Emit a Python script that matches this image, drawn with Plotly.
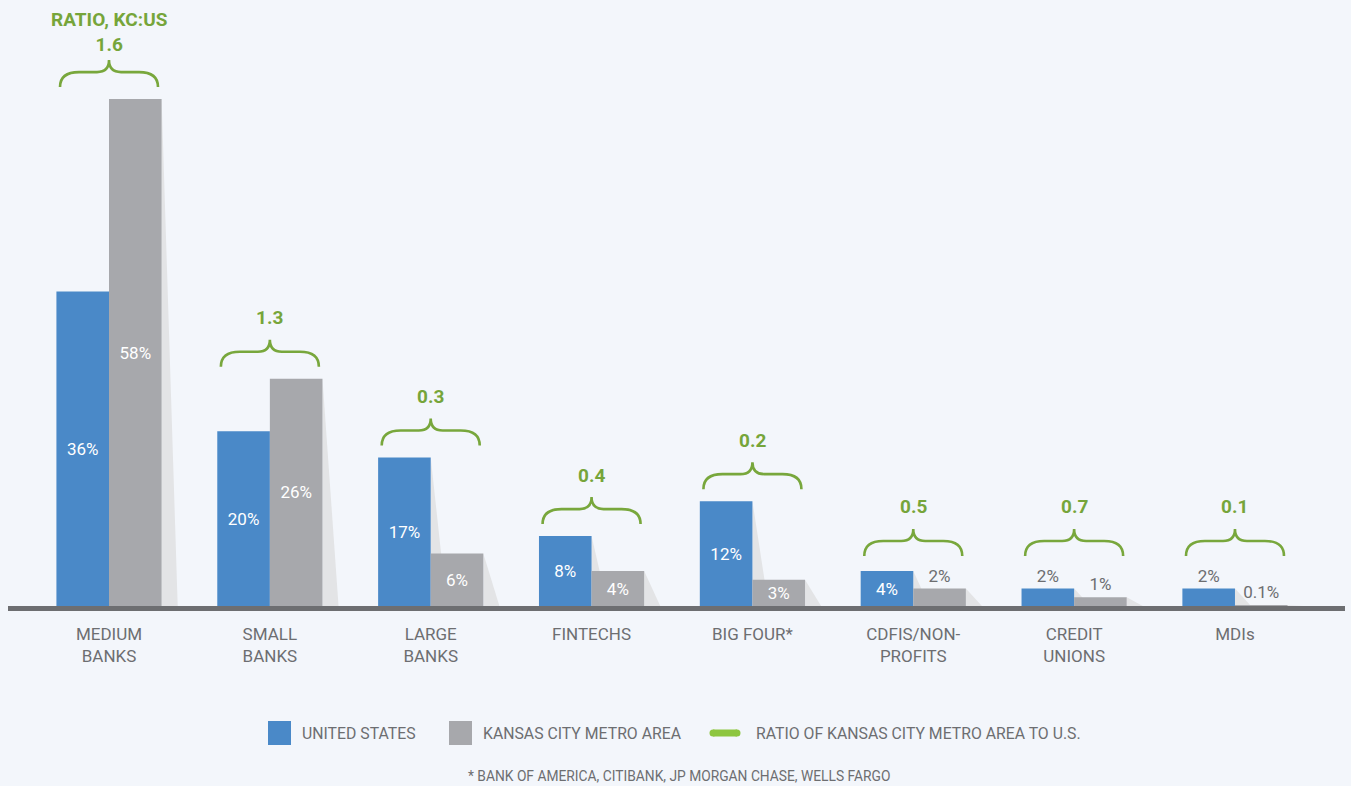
import plotly.graph_objects as go

# ---------------- data ----------------
categories = ["MEDIUM<br>BANKS", "SMALL<br>BANKS", "LARGE<br>BANKS", "FINTECHS",
              "BIG FOUR*", "CDFIS/NON-<br>PROFITS", "CREDIT<br>UNIONS", "MDIs"]
us_share = [36, 20, 17, 8, 12, 4, 2, 2]
kc_share = [58, 26, 6, 4, 3, 2, 1, 0.1]
ratio_kc_us = [1.6, 1.3, 0.3, 0.4, 0.2, 0.5, 0.7, 0.1]
series_names = ["UNITED STATES", "KANSAS CITY METRO AREA", "RATIO OF KANSAS CITY METRO AREA TO U.S."]
footnote = "* BANK OF AMERICA, CITIBANK, JP MORGAN CHASE, WELLS FARGO"

# ---------------- style ----------------
BG = "#f3f6fb"
BLUE = "#4a89c8"
GRAY = "#a7a8ac"
SHADOW = "#e3e4e6"
AXIS = "#6d6e71"
TXT = "#6d6e71"
GREEN_TXT = "#76a53a"
GREEN_LINE = "#78a73c"
GREEN_LEG = "#8dc63f"
FONT = "Roboto"

W, H = 1351, 786
ML, MR, MT, MB = 8, 6, 0, 180
PW, PH = W - ML - MR, H - MT - MB

BAR_W = 0.327
X_RANGE = [-0.628, 7.684]
Y_RANGE = [0, 69.34]
SHADOW_DX = 0.1
MIN_BRACE = 4.35

x_idx = list(range(len(categories)))

fig = go.Figure()

def text_pos(vals):
    return ["inside" if v >= 3 else "outside" for v in vals]

for vals, name, color in ((us_share, series_names[0], BLUE), (kc_share, series_names[1], GRAY)):
    fig.add_trace(go.Bar(
        x=x_idx, y=vals, name=name, marker=dict(color=color, line=dict(width=0)),
        offset=-BAR_W if color == BLUE else 0, width=BAR_W,
        texttemplate="%{y}%", textposition=text_pos(vals), insidetextanchor="middle",
        insidetextfont=dict(color="white", size=17, family=FONT),
        outsidetextfont=dict(color=TXT, size=17, family=FONT),
        constraintext="none", cliponaxis=False, showlegend=False, hoverinfo="skip",
    ))

shapes = []
annotations = []

def px_x(px):
    return (px - ML) / PW

def px_y(py):
    return (MT + PH - py) / PH

# bar shadows
for i in x_idx:
    for off, v in ((-BAR_W, us_share[i]), (0, kc_share[i])):
        xr = i + off + BAR_W
        shapes.append(dict(type="path", xref="x", yref="y", layer="below",
                           path=f"M {xr},{v} L {xr + SHADOW_DX},0 L {xr},0 Z",
                           fillcolor=SHADOW, line=dict(width=0)))

# baseline axis
shapes.append(dict(type="line", xref="paper", yref="paper",
                   x0=0, x1=1, y0=px_y(608.5), y1=px_y(608.5),
                   line=dict(color=AXIS, width=5), layer="above"))

# braces and ratio labels
brace = ("M -49,12 C -49,23 -42,27 -30,27 L -12,27 C -4,27 0,31 0,39 "
         "C 0,31 4,27 12,27 L 30,27 C 42,27 49,23 49,12")
for i in x_idx:
    anchor = max(us_share[i], kc_share[i], MIN_BRACE)
    shapes.append(dict(type="path", xref="x", yref="y", xsizemode="pixel", ysizemode="pixel",
                       xanchor=i, yanchor=anchor, path=brace,
                       line=dict(color=GREEN_LINE, width=2.6), layer="above"))
    if i == 0:
        annotations.append(dict(x=i, y=anchor, xref="x", yref="y", yshift=41, yanchor="bottom",
                                text=f"<b>RATIO, KC:US</b><br><b>{ratio_kc_us[i]:.1f}</b>",
                                showarrow=False, font=dict(color=GREEN_TXT, size=19, family=FONT)))
    else:
        annotations.append(dict(x=i, y=anchor, xref="x", yref="y", yshift=61, yanchor="middle",
                                text=f"<b>{ratio_kc_us[i]:.1f}</b>",
                                showarrow=False, font=dict(color=GREEN_TXT, size=19, family=FONT)))

# custom legend
leg_y = 733
shapes.append(dict(type="rect", xref="paper", yref="paper", x0=px_x(268), x1=px_x(291),
                   y0=px_y(745), y1=px_y(721), fillcolor=BLUE, line=dict(width=0)))
shapes.append(dict(type="rect", xref="paper", yref="paper", x0=px_x(449), x1=px_x(472),
                   y0=px_y(745), y1=px_y(721), fillcolor=GRAY, line=dict(width=0)))
shapes.append(dict(type="line", xref="paper", yref="paper", x0=px_x(713), x1=px_x(737),
                   y0=px_y(leg_y), y1=px_y(leg_y), line=dict(color=GREEN_LEG, width=7)))
shapes.append(dict(type="circle", xref="paper", yref="paper", x0=px_x(709.5), x1=px_x(716.5),
                   y0=px_y(736.5), y1=px_y(729.5), fillcolor=GREEN_LEG, line=dict(width=0)))
shapes.append(dict(type="circle", xref="paper", yref="paper", x0=px_x(733.5), x1=px_x(740.5),
                   y0=px_y(736.5), y1=px_y(729.5), fillcolor=GREEN_LEG, line=dict(width=0)))
for lx, name in ((300, series_names[0]), (481, series_names[1]), (754, series_names[2])):
    annotations.append(dict(x=px_x(lx), y=px_y(leg_y), xref="paper", yref="paper",
                            xanchor="left", yanchor="middle", text=name, showarrow=False,
                            font=dict(color=TXT, size=15.8, family=FONT)))
annotations.append(dict(x=px_x(679), y=px_y(776), xref="paper", yref="paper",
                        xanchor="center", yanchor="middle", text=footnote, showarrow=False,
                        font=dict(color=TXT, size=13.8, family=FONT)))

fig.update_layout(
    width=W, height=H,
    margin=dict(l=ML, r=MR, t=MT, b=MB),
    paper_bgcolor=BG, plot_bgcolor=BG,
    barmode="overlay",
    showlegend=False,
    shapes=shapes, annotations=annotations,
    font=dict(family=FONT, color=TXT),
    xaxis=dict(range=X_RANGE, tickvals=x_idx, ticktext=categories, showgrid=False,
               zeroline=False, showline=False, ticks="", fixedrange=True,
               ticklabelstandoff=16,
               tickfont=dict(size=17, color=TXT, family=FONT)),
    yaxis=dict(range=Y_RANGE, visible=False, showgrid=False, zeroline=False, fixedrange=True),
)

fig.write_html("out.html", config={"displayModeBar": False},
               post_script="document.body.style.margin='0';document.body.style.overflow='hidden';")
